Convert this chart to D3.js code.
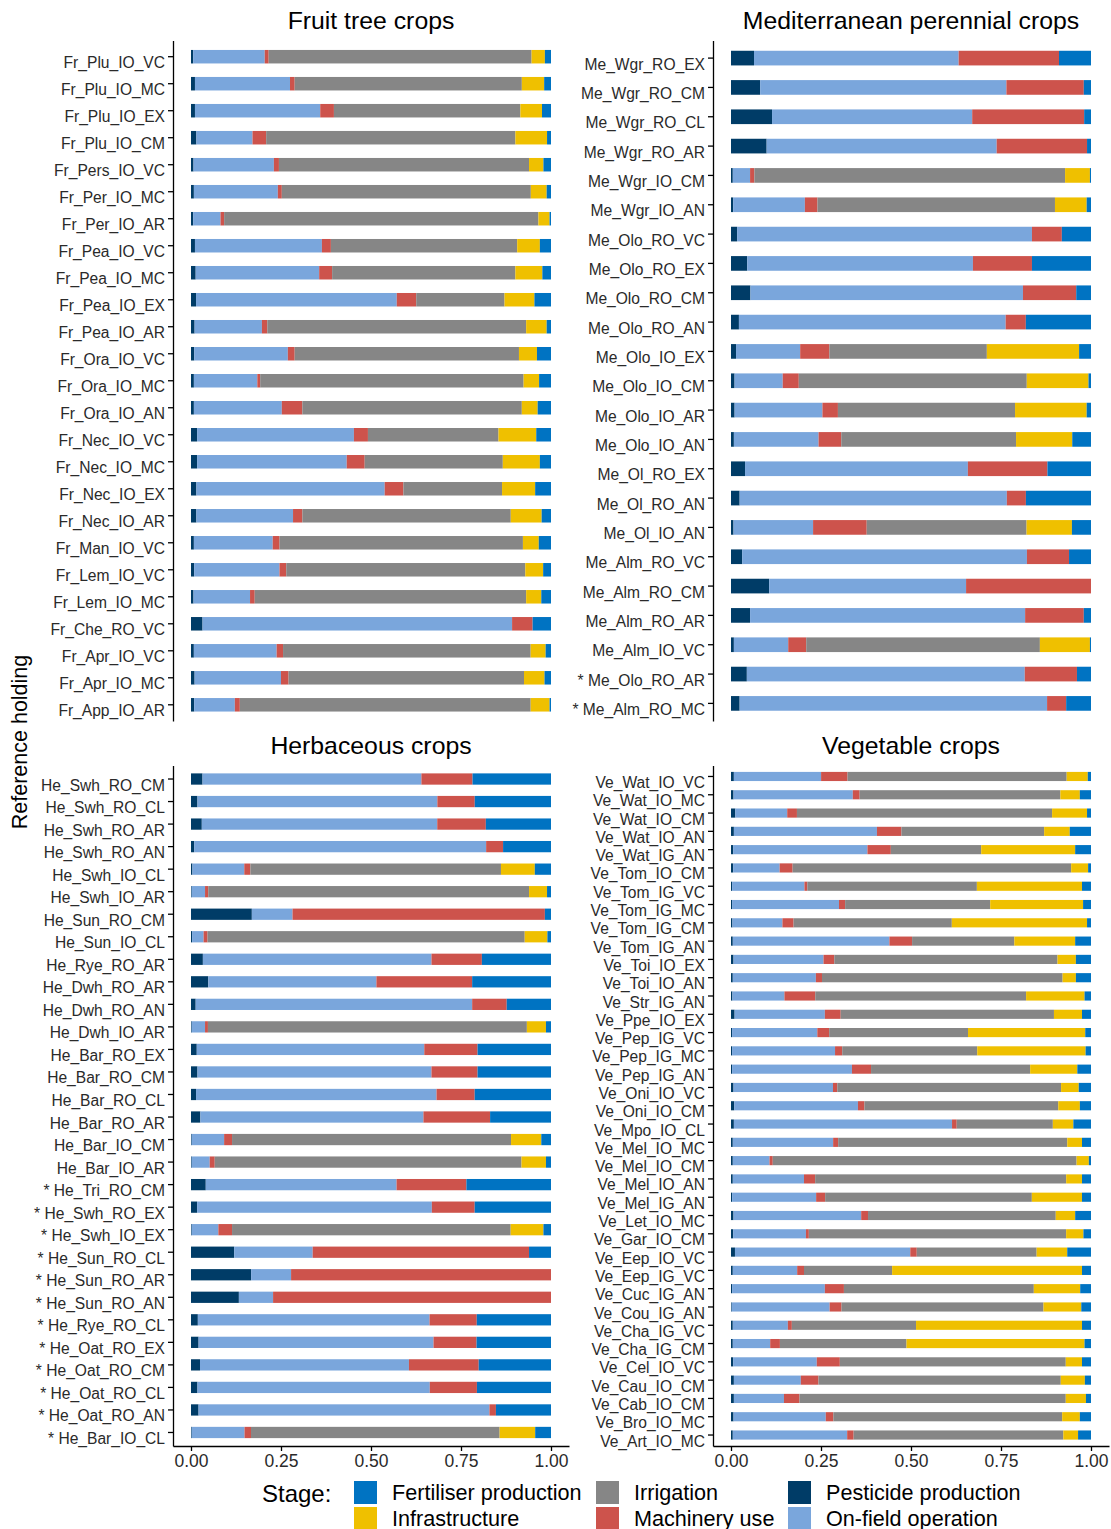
<!DOCTYPE html>
<html>
<head>
<meta charset="utf-8">
<script src="https://cdn.jsdelivr.net/npm/d3@7"></script>
<style>
  body { margin: 0; background: #fff; }
  svg { font-family: "Liberation Sans", Arial, sans-serif; }
  .axis path, .axis line { stroke: #000; stroke-width: 1.3; }
  .axis text { fill: #2a2a2a; }
</style>
</head>
<body>
<div id="chart"></div>
<script>
// stage names, in stacking order (left to right inside each bar)
const stages = ["Pesticide production", "On-field operation", "Machinery use", "Irrigation", "Infrastructure", "Fertiliser production"];
const stageColors = ["#003C67", "#7AA6DC", "#CD534C", "#868686", "#EFC000", "#0073C2"];
// legend is alphabetical, filled column by column
const legendOrder = ["Fertiliser production", "Infrastructure", "Irrigation", "Machinery use", "Pesticide production", "On-field operation"];
const xTicks = [0, 0.25, 0.5, 0.75, 1];

// --- Fruit tree crops ---
const fruitCats = ["Fr_Plu_IO_VC", "Fr_Plu_IO_MC", "Fr_Plu_IO_EX", "Fr_Plu_IO_CM", "Fr_Pers_IO_VC", "Fr_Per_IO_MC", "Fr_Per_IO_AR", "Fr_Pea_IO_VC", "Fr_Pea_IO_MC", "Fr_Pea_IO_EX", "Fr_Pea_IO_AR", "Fr_Ora_IO_VC", "Fr_Ora_IO_MC", "Fr_Ora_IO_AN", "Fr_Nec_IO_VC", "Fr_Nec_IO_MC", "Fr_Nec_IO_EX", "Fr_Nec_IO_AR", "Fr_Man_IO_VC", "Fr_Lem_IO_VC", "Fr_Lem_IO_MC", "Fr_Che_RO_VC", "Fr_Apr_IO_VC", "Fr_Apr_IO_MC", "Fr_App_IO_AR"];
const fruitPest = [.006,.011,.011,.015,.007,.008,.006,.011,.013,.014,.010,.009,.008,.008,.017,.017,.015,.015,.008,.009,.007,.032,.008,.010,.009];
const fruitOnField = [.199,.264,.348,.156,.223,.233,.076,.353,.343,.557,.187,.260,.176,.244,.436,.416,.523,.269,.219,.239,.157,.859,.232,.240,.114];
const fruitMach = [.011,.013,.038,.038,.014,.011,.010,.025,.036,.054,.015,.019,.008,.057,.039,.050,.052,.026,.019,.019,.013,.057,.018,.021,.014];
const fruitIrr = [.731,.631,.518,.693,.694,.691,.873,.518,.509,.245,.719,.623,.731,.609,.363,.384,.274,.580,.676,.670,.754,0,.694,.654,.816];
const fruitInfra = [.037,.062,.060,.088,.040,.044,.031,.063,.075,.083,.057,.050,.043,.044,.105,.103,.092,.086,.044,.050,.042,0,.042,.057,.053];
const fruitFert = [.017,.019,.025,.011,.021,.012,.004,.031,.024,.046,.012,.039,.033,.037,.041,.031,.044,.026,.034,.022,.027,.051,.015,.018,.004];

// --- Mediterranean perennial crops ---
const medCats = ["Me_Wgr_RO_EX", "Me_Wgr_RO_CM", "Me_Wgr_RO_CL", "Me_Wgr_RO_AR", "Me_Wgr_IO_CM", "Me_Wgr_IO_AN", "Me_Olo_RO_VC", "Me_Olo_RO_EX", "Me_Olo_RO_CM", "Me_Olo_RO_AN", "Me_Olo_IO_EX", "Me_Olo_IO_CM", "Me_Olo_IO_AR", "Me_Olo_IO_AN", "Me_Ol_RO_EX", "Me_Ol_RO_AN", "Me_Ol_IO_AN", "Me_Alm_RO_VC", "Me_Alm_RO_CM", "Me_Alm_RO_AR", "Me_Alm_IO_VC", "* Me_Olo_RO_AR", "* Me_Alm_RO_MC"];
const medPest = [.064,.081,.114,.099,.005,.006,.017,.045,.054,.022,.014,.010,.010,.008,.039,.024,.007,.031,.106,.053,.008,.044,.024];
const medOnField = [.569,.684,.556,.639,.048,.199,.819,.627,.757,.741,.178,.135,.244,.235,.619,.743,.221,.791,.547,.764,.151,.772,.854];
const medMach = [.279,.215,.311,.251,.012,.035,.083,.164,.148,.056,.081,.045,.043,.063,.221,.053,.149,.117,.347,.163,.050,.145,.053];
const medIrr = [0,0,0,0,.863,.659,0,0,0,0,.437,.639,.492,.485,0,0,.444,0,0,0,.649,0,0];
const medInfra = [0,0,0,0,.069,.088,0,0,0,0,.256,.173,.199,.156,0,0,.126,0,0,0,.139,0,0];
const medFert = [.089,.020,.019,.011,.003,.012,.081,.164,.041,.181,.033,.007,.012,.052,.121,.181,.053,.061,0,.020,.003,.039,.069];

// --- Herbaceous crops ---
const herbCats = ["He_Swh_RO_CM", "He_Swh_RO_CL", "He_Swh_RO_AR", "He_Swh_RO_AN", "He_Swh_IO_CL", "He_Swh_IO_AR", "He_Sun_RO_CM", "He_Sun_IO_CL", "He_Rye_RO_AR", "He_Dwh_RO_AR", "He_Dwh_RO_AN", "He_Dwh_IO_AR", "He_Bar_RO_EX", "He_Bar_RO_CM", "He_Bar_RO_CL", "He_Bar_RO_AR", "He_Bar_IO_CM", "He_Bar_IO_AR", "* He_Tri_RO_CM", "* He_Swh_RO_EX", "* He_Swh_IO_EX", "* He_Sun_RO_CL", "* He_Sun_RO_AR", "* He_Sun_RO_AN", "* He_Rye_RO_CL", "* He_Oat_RO_EX", "* He_Oat_RO_CM", "* He_Oat_RO_CL", "* He_Oat_RO_AN", "* He_Bar_IO_CL"];
const herbPest = [.032,.018,.030,.009,.004,.002,.169,.003,.033,.048,.013,.002,.016,.018,.014,.026,.002,.002,.041,.017,.002,.120,.167,.133,.019,.021,.025,.018,.021,.002];
const herbOnField = [.608,.667,.654,.810,.144,.037,.113,.032,.635,.467,.768,.037,.632,.650,.668,.619,.090,.050,.530,.652,.074,.218,.111,.095,.643,.650,.581,.646,.808,.147];
const herbMach = [.142,.104,.135,.047,.017,.009,.701,.011,.140,.266,.096,.008,.148,.128,.106,.185,.022,.014,.194,.119,.038,.601,.722,.772,.131,.119,.194,.131,.018,.018];
const herbIrr = [0,0,0,0,.696,.891,0,.881,0,0,0,.886,0,0,0,0,.775,.853,0,0,.774,0,0,0,0,0,0,0,0,.692];
const herbInfra = [0,0,0,0,.094,.050,0,.063,0,0,0,.053,0,0,0,0,.084,.068,0,0,.091,0,0,0,0,0,0,0,0,.099];
const herbFert = [.218,.212,.181,.133,.045,.011,.017,.010,.192,.219,.123,.014,.204,.204,.212,.169,.027,.014,.235,.212,.021,.061,0,0,.206,.206,.201,.206,.153,.044];

// --- Vegetable crops ---
const vegCats = ["Ve_Wat_IO_VC", "Ve_Wat_IO_MC", "Ve_Wat_IO_CM", "Ve_Wat_IO_AN", "Ve_Wat_IG_AN", "Ve_Tom_IO_CM", "Ve_Tom_IG_VC", "Ve_Tom_IG_MC", "Ve_Tom_IG_CM", "Ve_Tom_IG_AN", "Ve_Toi_IO_EX", "Ve_Toi_IO_AN", "Ve_Str_IG_AN", "Ve_Ppe_IO_EX", "Ve_Pep_IG_VC", "Ve_Pep_IG_MC", "Ve_Pep_IG_AN", "Ve_Oni_IO_VC", "Ve_Oni_IO_CM", "Ve_Mpo_IO_CL", "Ve_Mel_IO_MC", "Ve_Mel_IO_CM", "Ve_Mel_IO_AN", "Ve_Mel_IG_AN", "Ve_Let_IO_MC", "Ve_Gar_IO_CM", "Ve_Eep_IO_VC", "Ve_Eep_IG_VC", "Ve_Cuc_IG_AN", "Ve_Cou_IG_AN", "Ve_Cha_IG_VC", "Ve_Cha_IG_CM", "Ve_Cel_IO_VC", "Ve_Cau_IO_CM", "Ve_Cab_IO_CM", "Ve_Bro_IO_MC", "Ve_Art_IO_MC"];
const vegPest = [.008,.007,.012,.008,.006,.006,.003,.003,.004,.005,.007,.005,.004,.010,.003,.003,.003,.007,.009,.008,.005,.005,.005,.003,.007,.006,.011,.005,.003,.002,.005,.005,.006,.008,.008,.007,.005];
const vegOnField = [.244,.331,.144,.397,.373,.129,.201,.297,.139,.435,.250,.231,.145,.251,.237,.286,.333,.276,.344,.606,.279,.102,.198,.233,.355,.202,.487,.179,.258,.272,.153,.104,.232,.186,.139,.256,.318];
const vegMach = [.074,.019,.027,.068,.065,.036,.008,.017,.031,.063,.030,.017,.086,.044,.033,.020,.053,.012,.018,.013,.014,.009,.031,.025,.019,.008,.018,.019,.053,.033,.011,.027,.064,.049,.043,.021,.018];
const vegIrr = [.613,.557,.708,.396,.251,.773,.471,.403,.440,.284,.620,.669,.588,.593,.386,.375,.442,.621,.539,.267,.637,.844,.698,.573,.522,.714,.333,.245,.528,.561,.345,.352,.627,.673,.739,.635,.583];
const vegInfra = [.059,.054,.097,.071,.261,.047,.292,.258,.376,.169,.051,.037,.163,.078,.326,.301,.131,.049,.060,.057,.041,.034,.044,.139,.054,.048,.085,.528,.129,.105,.461,.495,.045,.067,.056,.049,.041];
const vegFert = [.009,.031,.011,.059,.044,.008,.025,.022,.011,.044,.042,.042,.018,.025,.016,.015,.038,.034,.031,.049,.025,.006,.025,.025,.044,.021,.066,.025,.030,.027,.025,.018,.025,.017,.014,.031,.036];

const panels = [
    { title: "Fruit tree crops", cats: fruitCats, series: [fruitPest, fruitOnField, fruitMach, fruitIrr, fruitInfra, fruitFert], x0: 173, y0: 40.5, xAxis: false },
    { title: "Mediterranean perennial crops", cats: medCats, series: [medPest, medOnField, medMach, medIrr, medInfra, medFert], x0: 713, y0: 40.5, xAxis: false },
    { title: "Herbaceous crops", cats: herbCats, series: [herbPest, herbOnField, herbMach, herbIrr, herbInfra, herbFert], x0: 173, y0: 765.5, xAxis: true },
    { title: "Vegetable crops", cats: vegCats, series: [vegPest, vegOnField, vegMach, vegIrr, vegInfra, vegFert], x0: 713, y0: 765.5, xAxis: true }
];

const W = 1111, H = 1529;
const panelW = 396, panelH = 680.5;

const svg = d3.select("#chart").append("svg")
    .attr("width", W)
    .attr("height", H);

const color = d3.scaleOrdinal().domain(stages).range(stageColors);

panels.forEach(p => {
    // rows as objects keyed by stage
    const rows = p.cats.map((c, i) => {
        const r = { cat: c };
        stages.forEach((s, k) => { r[s] = p.series[k][i]; });
        return r;
    });

    const stacked = d3.stack()
        .keys(stages)
        .offset(d3.stackOffsetExpand)(rows);

    // ggplot-like expansion: 5% on x, 0.6 band on y
    const x = d3.scaleLinear()
        .domain([-0.05, 1.05])
        .range([p.x0, p.x0 + panelW]);

    const y = d3.scaleBand()
        .domain(p.cats)
        .range([p.y0, p.y0 + panelH])
        .paddingInner(0.5)
        .paddingOuter(0.35);

    const g = svg.append("g");

    g.selectAll("g.layer")
        .data(stacked)
        .enter()
        .append("g")
        .attr("class", "layer")
        .attr("fill", d => color(d.key))
        .selectAll("rect")
        .data(d => d)
        .enter()
        .append("rect")
        .attr("x", d => x(d[0]))
        .attr("y", d => y(d.data.cat))
        .attr("width", d => Math.max(0, x(d[1]) - x(d[0])))
        .attr("height", y.bandwidth());

    const yAxis = g.append("g")
        .attr("class", "axis")
        .attr("transform", `translate(${p.x0},0)`)
        .call(d3.axisLeft(y).tickSize(5).tickPadding(3).tickSizeOuter(0));
    // labels sit a little below the tick in the original
    yAxis.selectAll("text")
        .style("font-size", "15.6px")
        .attr("dy", "0.74em");

    if (p.xAxis) {
        const xAxis = g.append("g")
            .attr("class", "axis")
            .attr("transform", `translate(0,${p.y0 + panelH})`)
            .call(d3.axisBottom(x).tickValues(xTicks).tickFormat(d3.format(".2f")).tickSize(5).tickSizeOuter(0).tickPadding(4));
        xAxis.selectAll("text").style("font-size", "17.5px");
    }

    g.append("text")
        .attr("x", p.x0 + panelW / 2)
        .attr("y", p.y0 - 12)
        .attr("text-anchor", "middle")
        .style("font-size", "24.8px")
        .attr("fill", "#000")
        .text(p.title);
});

// shared y axis title
svg.append("text")
    .attr("transform", "translate(27,742) rotate(-90)")
    .attr("text-anchor", "middle")
    .style("font-size", "21.5px")
    .text("Reference holding");

// --- Legend ---
const legend = svg.append("g");
legend.append("text")
    .attr("x", 262)
    .attr("y", 1502)
    .style("font-size", "24px")
    .text("Stage:");

const colX = [354, 596, 788];
legendOrder.forEach((s, i) => {
    const cx = colX[Math.floor(i / 2)];
    const cy = 1481 + (i % 2) * 26;
    legend.append("rect")
        .attr("x", cx)
        .attr("y", cy)
        .attr("width", 23)
        .attr("height", 23)
        .attr("fill", color(s));
    legend.append("text")
        .attr("x", cx + 38)
        .attr("y", cy + 18.5)
        .style("font-size", "21.6px")
        .text(s);
});
</script>
</body>
</html>
